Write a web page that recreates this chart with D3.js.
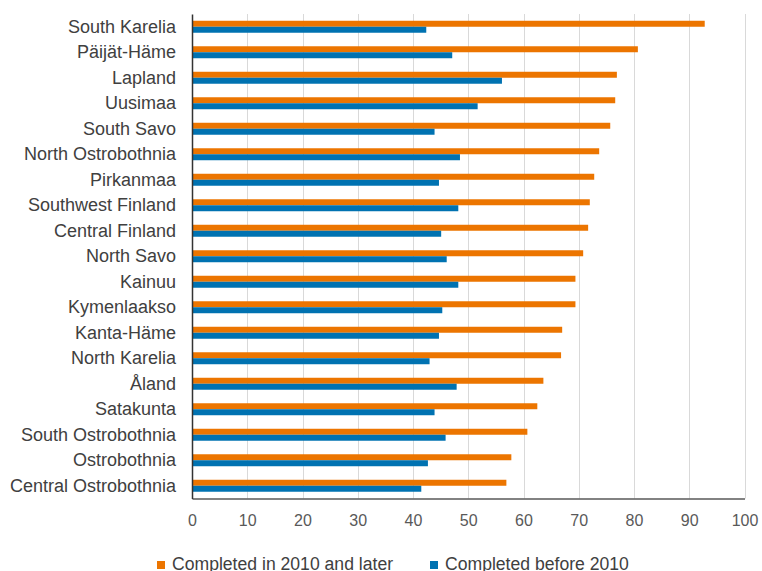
<!DOCTYPE html>
<html>
<head>
<meta charset="utf-8">
<script src="https://cdn.jsdelivr.net/npm/d3@7"></script>
<style>
  html, body { margin: 0; padding: 0; background: #ffffff; }
  svg { display: block; }
  text { font-family: "Liberation Sans", Arial, sans-serif; }
</style>
</head>
<body>
<svg id="chart" width="762" height="571"></svg>
<script>
const categories = [
  "South Karelia", "Päijät-Häme", "Lapland", "Uusimaa", "South Savo",
  "North Ostrobothnia", "Pirkanmaa", "Southwest Finland", "Central Finland",
  "North Savo", "Kainuu", "Kymenlaakso", "Kanta-Häme", "North Karelia",
  "Åland", "Satakunta", "South Ostrobothnia", "Ostrobothnia", "Central Ostrobothnia"
];
const seriesNames = ["Completed in 2010 and later", "Completed before 2010"];
const after2010 = [92.8, 80.7, 76.9, 76.6, 75.7, 73.7, 72.8, 72.0, 71.7, 70.8,
                   69.4, 69.4, 67.0, 66.8, 63.6, 62.5, 60.7, 57.8, 56.9];
const before2010 = [42.4, 47.1, 56.1, 51.7, 43.9, 48.5, 44.7, 48.2, 45.1, 46.1,
                    48.2, 45.3, 44.7, 43.0, 47.9, 43.9, 45.9, 42.7, 41.5];
const xTicks = [0, 10, 20, 30, 40, 50, 60, 70, 80, 90, 100];
const colors = ["#EC7500", "#0072B1"];

(function () {
const rows = categories.map((c, i) => ({ cat: c, values: [after2010[i], before2010[i]] }));

const svg = d3.select("#chart");
const mLeft = 192, mRight = 744.5, mTop = 14, mBottom = 498.5;

const x = d3.scaleLinear().domain([0, 100]).range([mLeft, mRight]);
const y = d3.scaleBand().domain(categories).range([mTop, mBottom])
  .paddingInner(0.53).paddingOuter(0.265);
const ySub = d3.scaleBand().domain([0, 1]).range([0, y.bandwidth()]).padding(0);

// gridlines
svg.append("g").selectAll("line").data(xTicks.filter(d => d > 0)).join("line")
  .attr("x1", d => Math.round(x(d)) + 0.5).attr("x2", d => Math.round(x(d)) + 0.5)
  .attr("y1", mTop).attr("y2", mBottom)
  .attr("stroke", "#d9d9d9").attr("stroke-width", 1);

// bars
const groups = svg.append("g").selectAll("g").data(rows).join("g")
  .attr("transform", d => `translate(0,${y(d.cat)})`);
groups.selectAll("rect").data(d => d.values.map((v, i) => ({ v, i }))).join("rect")
  .attr("x", x(0))
  .attr("y", d => ySub(d.i))
  .attr("width", d => x(d.v) - x(0))
  .attr("height", ySub.bandwidth())
  .attr("fill", d => colors[d.i]);

// x axis
const xAxis = d3.axisBottom(x).tickValues(xTicks).tickSize(0).tickPadding(16);
const gx = svg.append("g").attr("transform", `translate(0,${mBottom})`).call(xAxis);
gx.select(".domain").attr("stroke", "#595959").attr("stroke-width", 1.5);
gx.selectAll("text").attr("fill", "#595959").attr("font-size", 16)
  .style("font-family", "'Liberation Sans', Arial, sans-serif");

// y axis
const yAxis = d3.axisLeft(y).tickSize(0).tickPadding(16);
const gy = svg.append("g").attr("transform", `translate(${mLeft},0)`).call(yAxis);
gy.select(".domain").attr("stroke", "#333333").attr("stroke-width", 1.5);
gy.selectAll("text").attr("fill", "#404040").attr("font-size", 18)
  .style("font-family", "'Liberation Sans', Arial, sans-serif");

// legend
const legendItems = [
  { name: seriesNames[0], color: colors[0], x: 157 },
  { name: seriesNames[1], color: colors[1], x: 430 }
];
const lg = svg.append("g").selectAll("g").data(legendItems).join("g")
  .attr("transform", d => `translate(${d.x},561)`);
lg.append("rect").attr("x", 0).attr("y", 0).attr("width", 8).attr("height", 8)
  .attr("fill", d => d.color);
lg.append("text").attr("x", 15).attr("y", 9)
  .attr("font-size", 17.6).attr("fill", "#404040").text(d => d.name);
})();
</script>
</body>
</html>
